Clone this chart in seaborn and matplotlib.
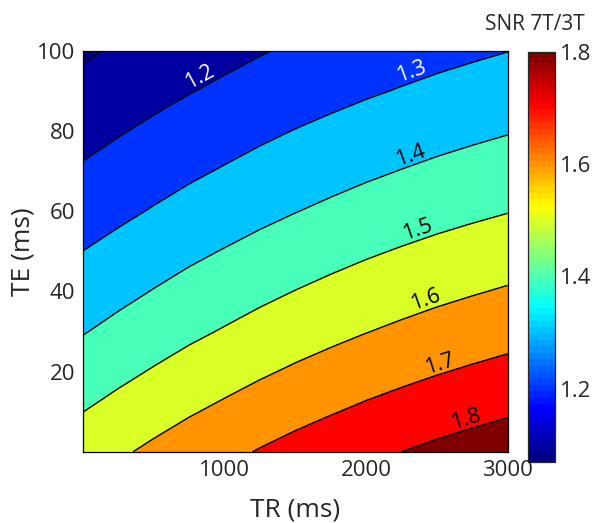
import numpy as np
import pandas as pd
import matplotlib
matplotlib.use("Agg")
import matplotlib.pyplot as plt
from matplotlib.colors import LinearSegmentedColormap, Normalize
from matplotlib.transforms import offset_copy
import seaborn as sns

sns.set_style("white")
plt.rcParams['font.family'] = ['Open Sans', 'DejaVu Sans']

# grid
tr_ms = [0, 250, 500, 750, 1000, 1250, 1500, 1750, 2000, 2250, 2500, 2750, 3000]
te_ms = [0, 10, 20, 30, 40, 50, 60, 70, 80, 90, 100]
# SNR ratio along the bottom edge (TE = 0)
snr_te0 = [1.554, 1.587, 1.619, 1.650, 1.678, 1.706, 1.732,
           1.756, 1.779, 1.800, 1.820, 1.838, 1.855]
# relative drop of the ratio with TE (same for every TR)
te_decay = [1.000, 0.965, 0.931, 0.898, 0.867, 0.837,
            0.807, 0.779, 0.752, 0.725, 0.700]

line_levels = [1.1, 1.2, 1.3, 1.4, 1.5, 1.6, 1.7, 1.8]
label_levels = [1.2, 1.3, 1.4, 1.5, 1.6, 1.7, 1.8]
label_pos = [(846, 92), (2330, 94), (2330, 72.5), (2380, 53.3),
             (2437, 36.3), (2535, 20), (2720, 6.7)]
label_colors = ['white', 'white', 'black', 'black', 'black', 'black', 'black']

df = pd.DataFrame(np.outer(te_decay, snr_te0), index=te_ms, columns=tr_ms)

# matlab jet, 64 steps
cmap = LinearSegmentedColormap.from_list(
    'mjet', [(0, (0, 0, 0.5)), (1 / 8, (0, 0, 1)), (3 / 8, (0, 1, 1)),
             (5 / 8, (1, 1, 0)), (7 / 8, (1, 0, 0)), (1, (0.5, 0, 0))], N=64)
vmin, vmax = 1.07, 1.8
norm = Normalize(vmin, vmax, clip=True)
fill_levels = [1.0] + line_levels + [1.9]
# matlab style: each band takes the colour of its lower level
band_colors = [cmap(norm(max(l, vmin))) for l in fill_levels[:-1]]

fig = plt.figure(figsize=(6, 5.23), dpi=100)
ax = fig.add_axes([0.139, 0.1363, 0.707, 0.7667])
X, Y = np.meshgrid(df.columns.values, df.index.values)
ax.contourf(X, Y, df.values, levels=fill_levels, colors=band_colors)
ax.contour(X, Y, df.values, levels=[1.1], colors='black', linewidths=1.0)
cs = ax.contour(X, Y, df.values, levels=label_levels, colors='black', linewidths=1.0)
txts = ax.clabel(cs, manual=label_pos, inline=False, fontsize=15.5, fmt='%.1f')
for t in txts:
    lv = round(float(t.get_text()), 1)
    t.set_color(label_colors[label_levels.index(lv)])
    # sit the label just above its line, as in the original
    a = np.deg2rad(t.get_rotation())
    d = 10
    t.set_transform(offset_copy(ax.transData, fig=fig, x=-np.sin(a) * d,
                                y=np.cos(a) * d, units='dots'))

ax.set_xlim(0, 3000)
ax.set_ylim(0, 100)
ax.set_xticks([1000, 2000, 3000])
ax.set_yticks([20, 40, 60, 80, 100])
ax.tick_params(direction='in', top=True, right=True, length=4, width=0.8,
               labelsize=16, colors='#262626', pad=6)
for s in ax.spines.values():
    s.set_color('black')
    s.set_linewidth(0.9)
ax.set_xlabel('TR (ms)', fontsize=19, color='#262626', labelpad=12)
ax.set_ylabel('TE (ms)', fontsize=19, color='#262626', labelpad=1)

cax = fig.add_axes([0.88, 0.117, 0.045, 0.784])
sm = matplotlib.cm.ScalarMappable(norm=Normalize(vmin, vmax), cmap=cmap)
cb = fig.colorbar(sm, cax=cax, ticks=[1.2, 1.4, 1.6, 1.8])
cb.ax.tick_params(direction='in', left=True, right=True, length=4, width=0.8,
                  labelsize=16, colors='#262626')
cb.outline.set_linewidth(0.9)
fig.text(0.892, 0.954, 'SNR 7T/3T', ha='center', va='center',
         fontsize=15, color='#262626')

fig.savefig('out.png', dpi=100)
